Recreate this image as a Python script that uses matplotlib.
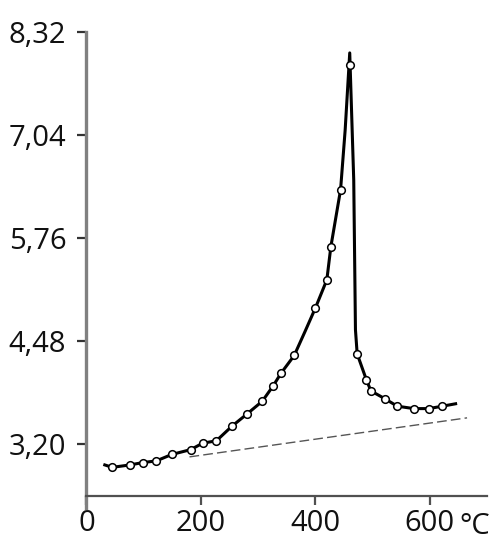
import matplotlib
matplotlib.use('Agg')
import matplotlib.pyplot as plt
import matplotlib.transforms as mtransforms

plt.rcParams['font.family'] = ['Open Sans', 'DejaVu Sans']

# measured points (temperature in degC, value)
temp = [45, 76, 99, 122, 149, 182, 203, 227, 254, 280, 307, 326, 340, 363,
        400, 420, 427, 444, 460, 473, 489, 497, 522, 543, 572, 598, 622]
value = [2.91, 2.94, 2.97, 2.99, 3.07, 3.13, 3.21, 3.24, 3.42, 3.57, 3.73,
         3.92, 4.08, 4.30, 4.89, 5.24, 5.65, 6.36, 7.91, 4.32, 4.00, 3.86,
         3.76, 3.67, 3.64, 3.64, 3.67]

# vertices of the drawn curve
curve_x = [32, 45, 76, 99, 122, 149, 182, 203, 227, 254, 280, 307, 326, 340,
           363, 382, 400, 420, 427, 444, 452, 460, 467, 470, 473, 489, 497,
           522, 543, 572, 598, 622, 645]
curve_y = [2.94, 2.91, 2.94, 2.97, 2.99, 3.07, 3.13, 3.21, 3.24, 3.42, 3.57,
           3.73, 3.92, 4.08, 4.30, 4.60, 4.89, 5.24, 5.65, 6.36, 7.10, 8.06,
           6.48, 4.62, 4.32, 4.00, 3.86, 3.76, 3.67, 3.64, 3.64, 3.67, 3.70]

# dashed base line
base_x = [180, 665]
base_y = [3.04, 3.525]

yticks = [3.20, 4.48, 5.76, 7.04, 8.32]
ylabels = ['3,20', '4,48', '5,76', '7,04', '8,32']
xticks = [0, 200, 400, 600]
xlabels = ['0', '200', '400', '600']

fig = plt.figure(figsize=(4.95, 5.6), dpi=100)
ax = fig.add_axes([0.1747, 0.1143, 0.8093, 0.8286])

ax.plot(base_x, base_y, color='#555555', lw=1.0, dashes=(7, 3))
ax.plot(curve_x, curve_y, color='black', lw=2.2, solid_joinstyle='round')
ax.plot(temp, value, 'o', ms=5.5, mfc='white', mec='black', mew=1.1)

ax.set_xlim(0, 700)
ax.set_ylim(2.554, 8.32)

ax.set_yticks(yticks)
ax.set_yticklabels(ylabels)
ax.set_xticks(xticks)
ax.set_xticklabels(xlabels)

for s in ['top', 'right']:
    ax.spines[s].set_visible(False)
ax.spines['left'].set_color('#808080')
ax.spines['left'].set_linewidth(2.4)
ax.spines['left'].set_bounds(2.40, 8.32)
ax.spines['bottom'].set_color('#505050')
ax.spines['bottom'].set_linewidth(1.6)

ax.tick_params(axis='y', length=6.5, width=1.6, color='#333333', pad=8,
               labelsize=21, labelcolor='#111111')
ax.tick_params(axis='x', length=6.5, width=1.6, color='#505050', pad=3,
               labelsize=21, labelcolor='#111111')

trans = mtransforms.blended_transform_factory(ax.transData, ax.transAxes)
ax.text(652, -0.0355, '°C', transform=trans, ha='left', va='top',
        fontsize=21, color='#111111')

fig.savefig('out.png', dpi=100)
